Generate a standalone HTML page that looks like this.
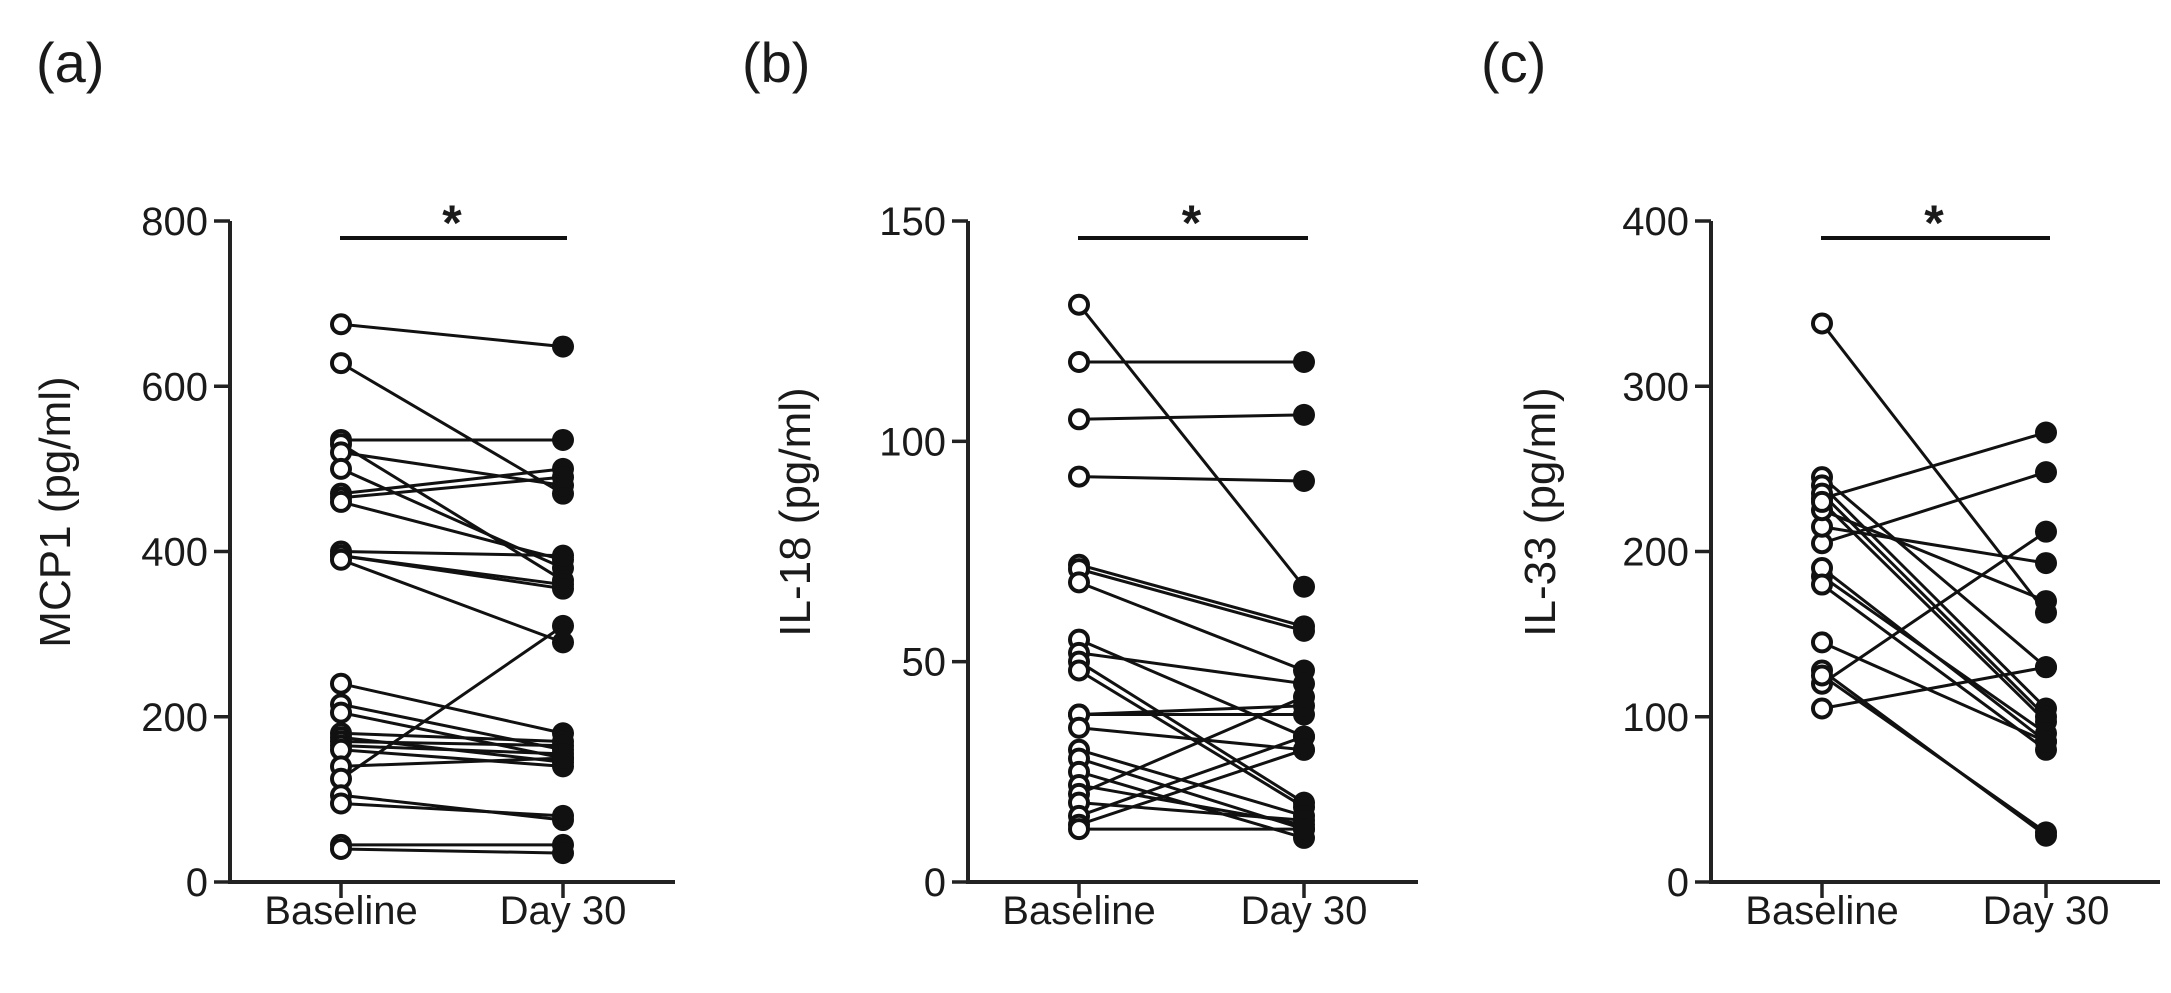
<!DOCTYPE html>
<html><head><meta charset="utf-8"><style>
html,body{margin:0;padding:0;background:#fff}
svg{display:block}
text{font-family:"Liberation Sans",sans-serif;fill:#1a1a1a}
</style></head><body>
<svg id="s" width="2171" height="993" viewBox="0 0 2171 993" xmlns="http://www.w3.org/2000/svg"></svg>
<script>
const s=document.getElementById('s');let h='';
const panels=[
 {lab:'(a)',lx:36,ax:230,bx:341,dx:563,xe:675,max:800,ticks:[0,200,400,600,800],yl:'MCP1 (pg/ml)',ylx:55,
  d:[[675,648],[628,470],[535,535],[530,365],[520,480],[500,380],[470,500],[465,490],[460,390],[400,395],[395,360],[395,355],[390,290],[240,180],[215,160],[205,150],[180,170],[175,145],[170,165],[165,155],[160,140],[140,150],[125,310],[105,75],[95,80],[45,45],[40,35]]},
 {lab:'(b)',lx:742,ax:968,bx:1079,dx:1304,xe:1418,max:150,ticks:[0,50,100,150],yl:'IL-18 (pg/ml)',ylx:795,
  d:[[131,67],[118,118],[105,106],[92,91],[72,58],[71,57],[68,48],[55,33],[52,45],[50,18],[48,17],[38,38],[38,40],[35,30],[30,15],[28,12],[25,10],[22,13],[20,42],[18,14],[15,33],[13,30],[12,12]]},
 {lab:'(c)',lx:1481,ax:1711,bx:1822,dx:2046,xe:2160,max:400,ticks:[0,100,200,300,400],yl:'IL-33 (pg/ml)',ylx:1540,
  d:[[338,163],[232,272],[205,248],[120,212],[215,193],[225,170],[245,130],[240,105],[235,100],[230,97],[185,90],[190,85],[180,80],[145,85],[105,130],[128,28],[125,30]]}
];
const y0=882,yt=221;
for(const p of panels){
 const Y=v=>y0-(v/p.max)*(y0-yt);
 h+=`<text x="${p.lx}" y="82" font-size="56">${p.lab}</text>`;
 h+=`<line x1="${p.ax}" y1="${yt}" x2="${p.ax}" y2="${y0+2}" stroke="#222" stroke-width="4"/>`;
 h+=`<line x1="${p.ax}" y1="${y0}" x2="${p.xe}" y2="${y0}" stroke="#222" stroke-width="4"/>`;
 for(const t of p.ticks){const y=Y(t);
  h+=`<line x1="${p.ax-16}" y1="${y}" x2="${p.ax}" y2="${y}" stroke="#222" stroke-width="3.5"/>`;
  h+=`<text x="${p.ax-22}" y="${y+14}" font-size="40" text-anchor="end">${t}</text>`;}
 for(const x of [p.bx,p.dx]) h+=`<line x1="${x}" y1="${y0}" x2="${x}" y2="${y0+16}" stroke="#222" stroke-width="3.5"/>`;
 h+=`<text x="${p.bx}" y="924" font-size="40" text-anchor="middle">Baseline</text>`;
 h+=`<text x="${p.dx}" y="924" font-size="40" text-anchor="middle">Day 30</text>`;
 h+=`<text transform="translate(${p.ylx+15},512) rotate(-90)" font-size="44" text-anchor="middle">${p.yl}</text>`;
 h+=`<line x1="${p.bx-1}" y1="238" x2="${p.dx+4}" y2="238" stroke="#111" stroke-width="4"/>`;
 h+=`<text x="${(p.bx+p.dx)/2}" y="240" font-size="50" font-weight="bold" text-anchor="middle">*</text>`;
 for(const [a,b] of p.d) h+=`<line x1="${p.bx}" y1="${Y(a)}" x2="${p.dx}" y2="${Y(b)}" stroke="#111" stroke-width="3"/>`;
 for(const [a,b] of p.d){
  h+=`<circle cx="${p.bx}" cy="${Y(a)}" r="9" fill="#fff" stroke="#111" stroke-width="4"/>`;
  h+=`<circle cx="${p.dx}" cy="${Y(b)}" r="11" fill="#111"/>`;}
}
s.innerHTML=h;
</script>
</body></html>
